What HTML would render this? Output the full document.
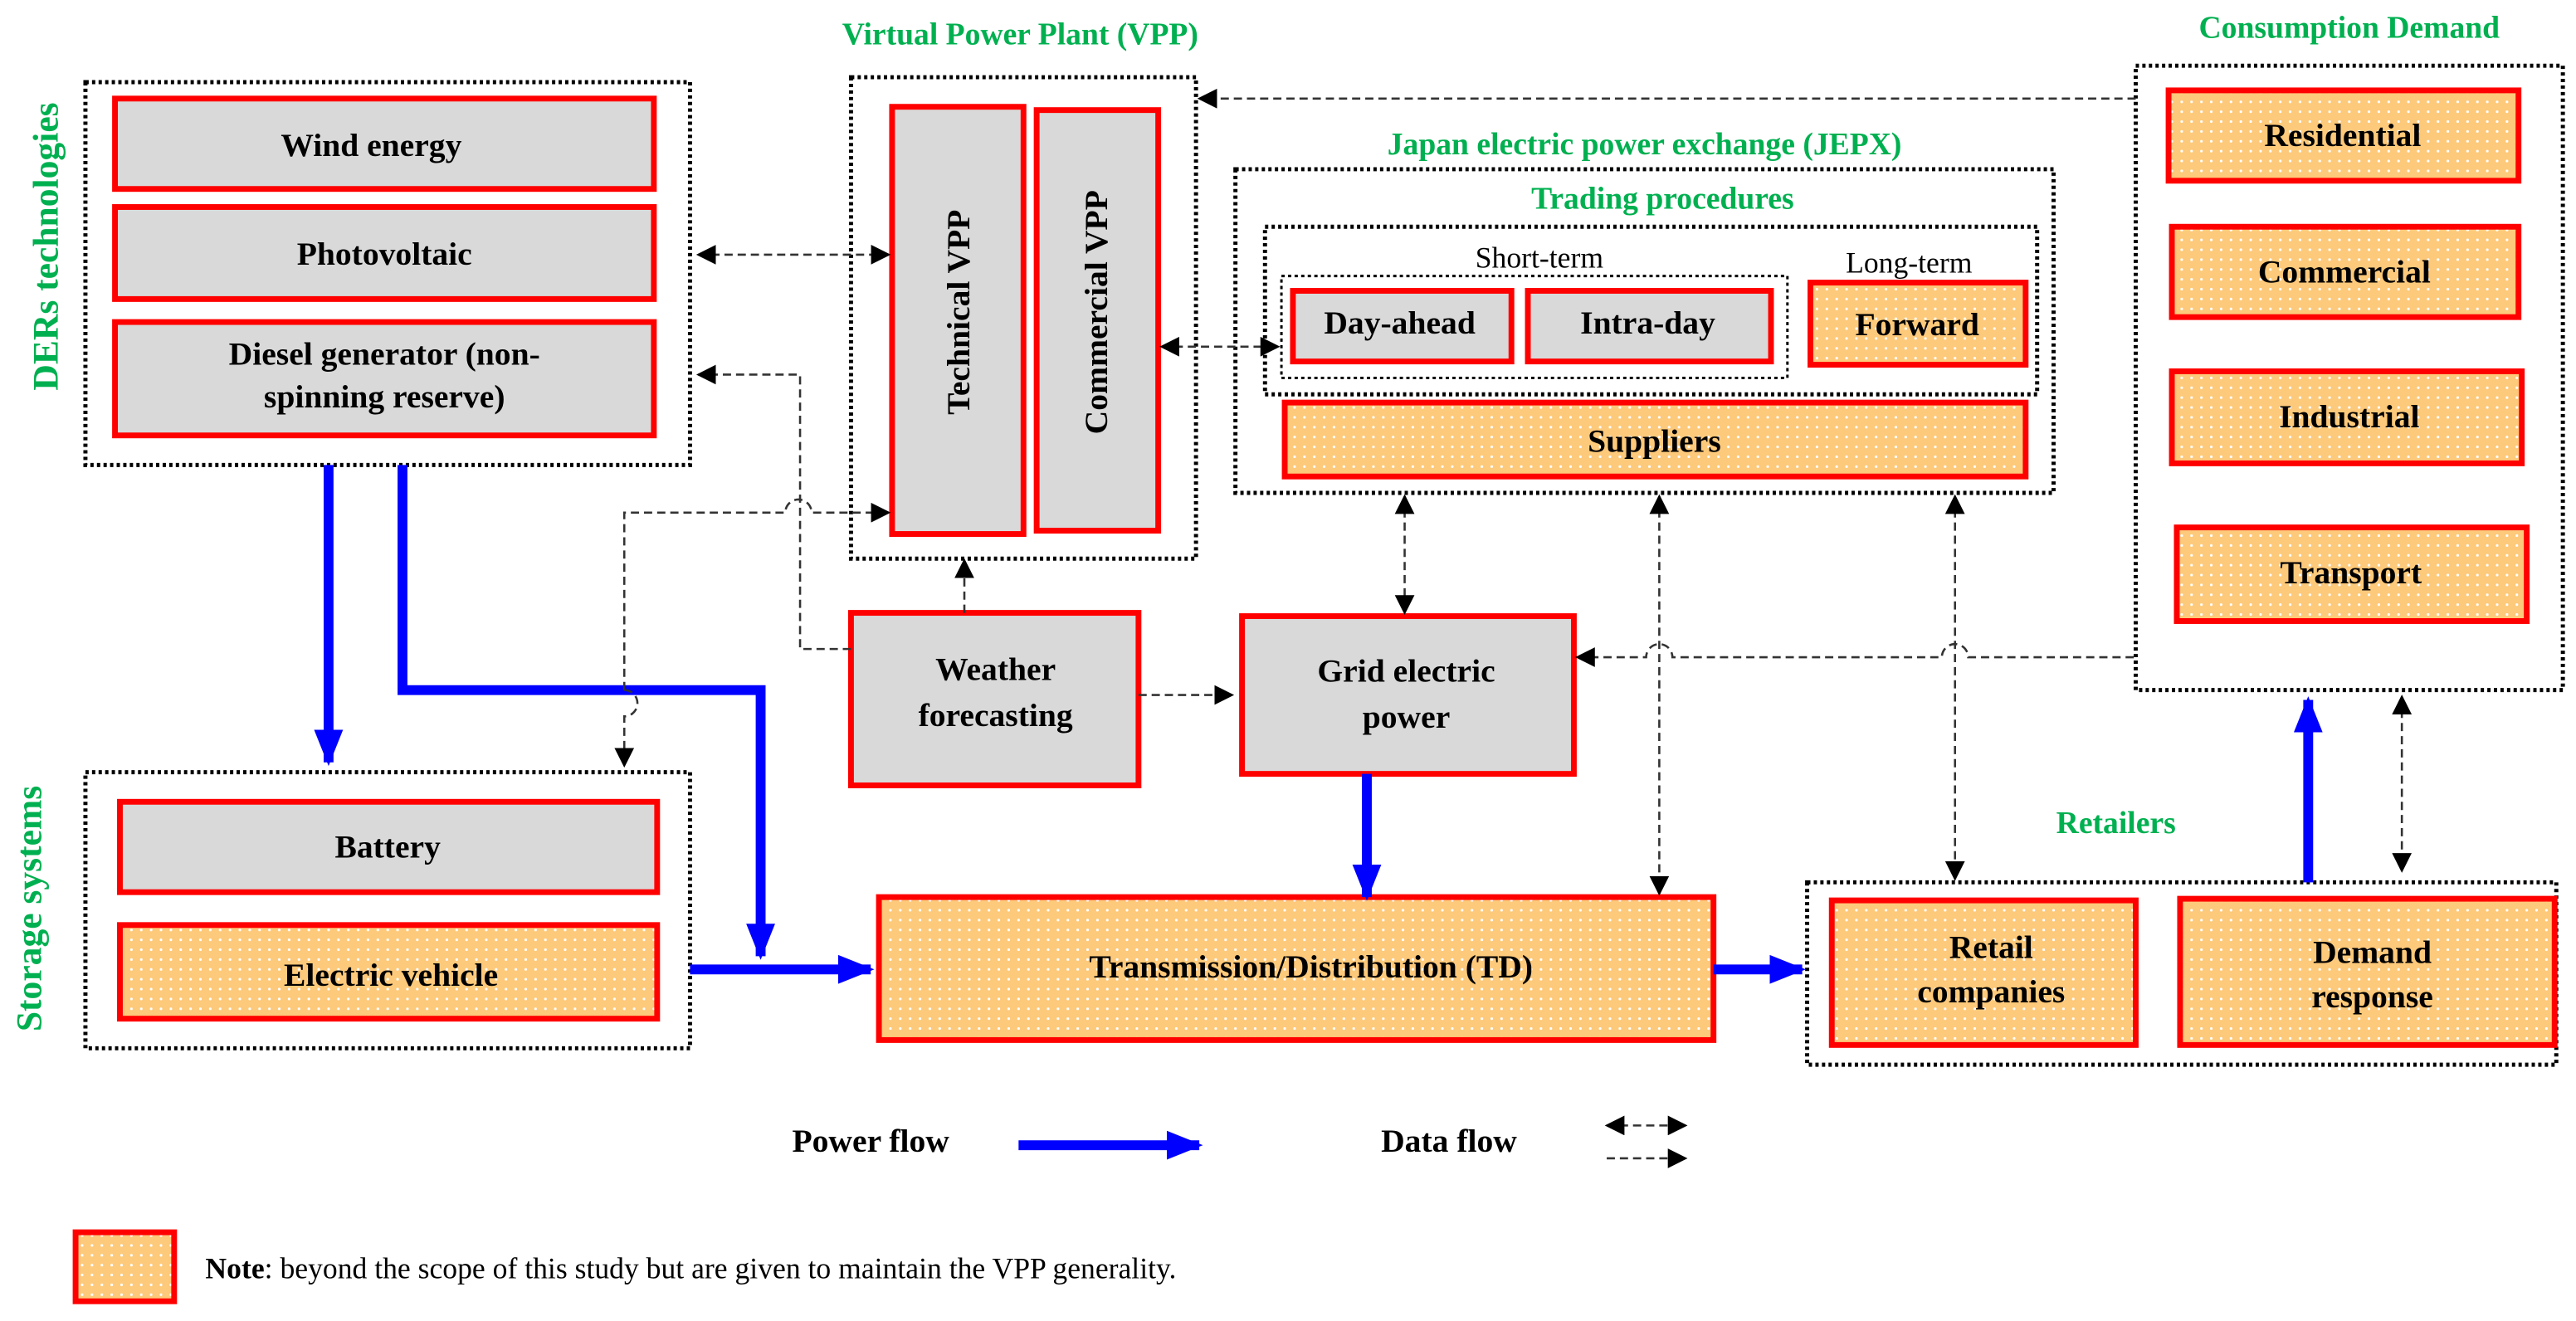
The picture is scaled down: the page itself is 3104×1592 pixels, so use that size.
<!DOCTYPE html>
<html><head><meta charset="utf-8"><style>html,body{margin:0;padding:0;background:#fff}svg{display:block}</style></head>
<body>
<svg width="3104" height="1592" viewBox="0 0 1568 804" preserveAspectRatio="none" xmlns="http://www.w3.org/2000/svg" font-family="Liberation Serif, serif">
<defs>
<pattern id="dots" width="6" height="6" patternUnits="userSpaceOnUse"><rect width="6" height="6" fill="#FDC97A"/><circle cx="2" cy="2" r="0.8" fill="#fff"/></pattern>
<marker id="ah" viewBox="0 0 10 10" refX="9" refY="5" markerWidth="12" markerHeight="12" markerUnits="userSpaceOnUse" orient="auto-start-reverse"><path d="M0,0L10,5L0,10z" fill="#000"/></marker>
<marker id="bh" viewBox="0 0 10 10" refX="9" refY="5" markerWidth="22" markerHeight="22" markerUnits="userSpaceOnUse" orient="auto"><path d="M0,1L10,5L0,9z" fill="#0000FF"/></marker>
</defs>
<g fill="none" stroke="#000" stroke-width="2.5" stroke-dasharray="2,2">
<rect x="52" y="50" width="368" height="233"/>
<rect x="518" y="47" width="210" height="293"/>
<rect x="752" y="103" width="498" height="197"/>
<rect x="770" y="138" width="470" height="102"/>
<rect x="780" y="168" width="308" height="62" stroke-width="1.5"/>
<rect x="1300" y="40" width="260" height="380"/>
<rect x="52" y="470" width="368" height="168"/>
<rect x="1100" y="537" width="456" height="111"/>
</g>
<g stroke="#FF0000" stroke-width="3.5">
<rect x="70" y="60" width="328" height="55" fill="#D9D9D9"/>
<rect x="70" y="126" width="328" height="56" fill="#D9D9D9"/>
<rect x="70" y="196" width="328" height="69" fill="#D9D9D9"/>
<rect x="543" y="65" width="80" height="260" fill="#D9D9D9"/>
<rect x="631" y="67" width="74" height="256" fill="#D9D9D9"/>
<rect x="787" y="177" width="133" height="43" fill="#D9D9D9"/>
<rect x="930" y="177" width="148" height="43" fill="#D9D9D9"/>
<rect x="1102" y="172" width="131" height="50" fill="url(#dots)"/>
<rect x="782" y="245" width="451" height="45" fill="url(#dots)"/>
<rect x="1320" y="55" width="213" height="55" fill="url(#dots)"/>
<rect x="1322" y="138" width="211" height="55" fill="url(#dots)"/>
<rect x="1322" y="226" width="213" height="56" fill="url(#dots)"/>
<rect x="1325" y="321" width="213" height="57" fill="url(#dots)"/>
<rect x="518" y="373" width="175" height="105" fill="#D9D9D9"/>
<rect x="756" y="375" width="202" height="96" fill="#D9D9D9"/>
<rect x="73" y="488" width="327" height="55" fill="#D9D9D9"/>
<rect x="73" y="563" width="327" height="57" fill="url(#dots)"/>
<rect x="535" y="546" width="508" height="87" fill="url(#dots)"/>
<rect x="1115" y="548" width="185" height="88" fill="url(#dots)"/>
<rect x="1327" y="547" width="228" height="89" fill="url(#dots)"/>
<rect x="46" y="750" width="60" height="42" fill="url(#dots)"/>
</g>
<g stroke="#0000FF" stroke-width="6" fill="none">
<path d="M200,283V464" marker-end="url(#bh)"/>
<path d="M245,283V420H463V582" marker-end="url(#bh)"/>
<path d="M420,590H530" marker-end="url(#bh)"/>
<path d="M832,471V546" marker-end="url(#bh)"/>
<path d="M1043,590H1097" marker-end="url(#bh)"/>
<path d="M1405,537V426" marker-end="url(#bh)"/>
<path d="M620,697H730" marker-end="url(#bh)"/>
</g>
<g stroke="#333" stroke-width="1.3" stroke-dasharray="5,3" fill="none">
<path d="M425,155H541" marker-start="url(#ah)" marker-end="url(#ah)"/>
<path d="M518,395H487V228H425" marker-end="url(#ah)"/>
<path d="M587,373V341" marker-end="url(#ah)"/>
<path d="M693,423H750" marker-end="url(#ah)"/>
<path d="M380,420V312H478a8,8 0 0 1 16,0H541" marker-end="url(#ah)"/>
<path d="M380,420a8,8 0 0 1 0,16V466" marker-end="url(#ah)"/>
<path d="M707,211H778" marker-start="url(#ah)" marker-end="url(#ah)"/>
<path d="M1300,60H730" marker-end="url(#ah)"/>
<path d="M960,400H1002a8,8 0 0 1 16,0H1182a8,8 0 0 1 16,0H1300" marker-start="url(#ah)"/>
<path d="M855,302V373" marker-start="url(#ah)" marker-end="url(#ah)"/>
<path d="M1010,302V544" marker-start="url(#ah)" marker-end="url(#ah)"/>
<path d="M1190,302V535" marker-start="url(#ah)" marker-end="url(#ah)"/>
<path d="M1462,424V530" marker-start="url(#ah)" marker-end="url(#ah)"/>
<path d="M978,685H1026" marker-start="url(#ah)" marker-end="url(#ah)"/>
<path d="M978,705H1026" marker-end="url(#ah)"/>
</g>
<g font-weight="bold" fill="#00B050" font-size="19" text-anchor="middle">
<text x="621" y="27">Virtual Power Plant (VPP)</text>
<text x="1001" y="94">Japan electric power exchange (JEPX)</text>
<text x="1012" y="127">Trading procedures</text>
<text x="1430" y="23">Consumption Demand</text>
<text x="1288" y="507">Retailers</text>
<text transform="translate(35,150) rotate(-90)" font-size="22">DERs technologies</text>
<text transform="translate(25,553) rotate(-90)" font-size="22">Storage systems</text>
</g>
<g font-weight="bold" fill="#000" font-size="20" text-anchor="middle">
<text x="226" y="95">Wind energy</text>
<text x="234" y="161">Photovoltaic</text>
<text x="234" y="222">Diesel generator (non-</text>
<text x="234" y="248">spinning reserve)</text>
<text transform="translate(590,190) rotate(-90)">Technical VPP</text>
<text transform="translate(674,190) rotate(-90)">Commercial VPP</text>
<text x="852" y="203">Day-ahead</text>
<text x="1003" y="203">Intra-day</text>
<text x="1167" y="204">Forward</text>
<text x="1007" y="275">Suppliers</text>
<text x="1426" y="89">Residential</text>
<text x="1427" y="172">Commercial</text>
<text x="1430" y="260">Industrial</text>
<text x="1431" y="355">Transport</text>
<text x="606" y="414">Weather</text>
<text x="606" y="442">forecasting</text>
<text x="856" y="415">Grid electric</text>
<text x="856" y="443">power</text>
<text x="236" y="522">Battery</text>
<text x="238" y="600">Electric vehicle</text>
<text x="798" y="595">Transmission/Distribution (TD)</text>
<text x="1212" y="583">Retail</text>
<text x="1212" y="610">companies</text>
<text x="1444" y="586">Demand</text>
<text x="1444" y="613">response</text>
<text x="530" y="701">Power flow</text>
<text x="882" y="701">Data flow</text>
</g>
<g fill="#000" font-size="18" text-anchor="middle">
<text x="937" y="163">Short-term</text>
<text x="1162" y="166">Long-term</text>
</g>
<text x="125" y="778" font-size="18" fill="#000"><tspan font-weight="bold">Note</tspan>: beyond the scope of this study but are given to maintain the VPP generality.</text>
</svg>
</body></html>
